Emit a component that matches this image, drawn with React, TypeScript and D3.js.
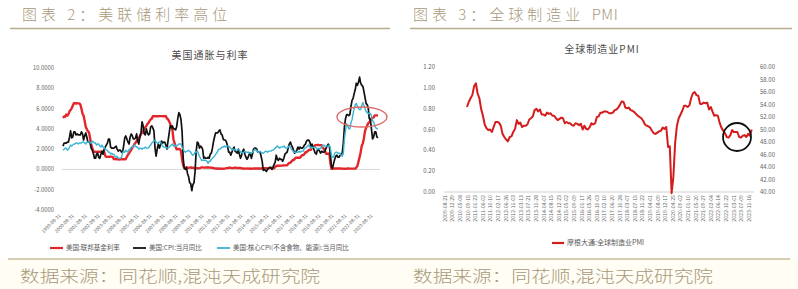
import React from 'react';
import * as d3 from 'd3';

const W = 798;
const H = 289;
const FONT = '"Noto Sans CJK SC", "Noto Sans", sans-serif';
const TAN = '#a8997a';

// ---------- Left chart: 美国通胀与利率 (monthly, 1999-08 .. 2023-11) ----------
const usStart = new Date(1999, 7, 1);
const usEnd = new Date(2023, 10, 1);
const fedFunds = [
  5.07, 5.22, 5.2, 5.42, 5.3,
  5.45, 5.73, 5.85, 6.02, 6.27, 6.53, 6.54, 6.5, 6.52, 6.51, 6.51, 6.4,
  5.98, 5.49, 5.31, 4.8, 4.21, 3.97, 3.77, 3.65, 3.07, 2.49, 2.09, 1.82,
  1.73, 1.74, 1.73, 1.75, 1.75, 1.75, 1.73, 1.74, 1.75, 1.75, 1.34, 1.24,
  1.24, 1.26, 1.25, 1.26, 1.26, 1.22, 1.01, 1.03, 1.01, 1.01, 1.0, 0.98,
  1.0, 1.01, 1.0, 1.0, 1.0, 1.03, 1.26, 1.43, 1.61, 1.76, 1.93, 2.16,
  2.28, 2.5, 2.63, 2.79, 3.0, 3.04, 3.26, 3.5, 3.62, 3.78, 4.0, 4.16,
  4.29, 4.49, 4.59, 4.79, 4.94, 4.99, 5.24, 5.25, 5.25, 5.25, 5.25, 5.24,
  5.25, 5.26, 5.26, 5.25, 5.25, 5.25, 5.26, 5.02, 4.94, 4.76, 4.49, 4.24,
  3.94, 2.98, 2.61, 2.28, 1.98, 2.0, 2.01, 2.0, 1.81, 0.97, 0.39, 0.16,
  0.15, 0.22, 0.18, 0.15, 0.18, 0.21, 0.16, 0.16, 0.15, 0.12, 0.12, 0.12,
  0.11, 0.13, 0.16, 0.2, 0.2, 0.18, 0.18, 0.19, 0.19, 0.19, 0.19, 0.18,
  0.17, 0.16, 0.14, 0.1, 0.09, 0.09, 0.07, 0.1, 0.08, 0.07, 0.08, 0.07,
  0.08, 0.1, 0.13, 0.14, 0.16, 0.16, 0.16, 0.13, 0.14, 0.16, 0.16, 0.16,
  0.14, 0.15, 0.14, 0.15, 0.11, 0.09, 0.09, 0.08, 0.08, 0.09, 0.08, 0.09,
  0.07, 0.07, 0.08, 0.09, 0.09, 0.1, 0.09, 0.09, 0.09, 0.09, 0.09, 0.12,
  0.11, 0.11, 0.11, 0.12, 0.12, 0.13, 0.13, 0.14, 0.14, 0.12, 0.12, 0.24,
  0.34, 0.38, 0.36, 0.37, 0.37, 0.38, 0.39, 0.4, 0.4, 0.4, 0.41, 0.54,
  0.65, 0.66, 0.79, 0.9, 0.91, 1.04, 1.15, 1.16, 1.15, 1.15, 1.16, 1.3,
  1.41, 1.42, 1.51, 1.69, 1.7, 1.82, 1.91, 1.91, 1.95, 2.19, 2.2, 2.27,
  2.4, 2.4, 2.41, 2.42, 2.39, 2.38, 2.4, 2.13, 2.04, 1.83, 1.55, 1.55,
  1.55, 1.58, 0.65, 0.05, 0.05, 0.08, 0.09, 0.1, 0.09, 0.09, 0.09, 0.09,
  0.09, 0.08, 0.07, 0.07, 0.06, 0.08, 0.1, 0.09, 0.08, 0.08, 0.08, 0.08,
  0.08, 0.08, 0.2, 0.33, 0.77, 1.21, 1.68, 2.33, 2.56, 3.08, 3.78, 4.1,
  4.33, 4.57, 4.65, 4.83, 5.06, 5.08, 5.12, 5.33, 5.33, 5.33, 5.33,
];
const cpiYoY = [
  2.3, 2.6, 2.6, 2.6, 2.7,
  2.7, 3.2, 3.8, 3.1, 3.2, 3.7, 3.7, 3.4, 3.5, 3.4, 3.4, 3.4,
  3.7, 3.5, 2.9, 3.3, 3.6, 3.2, 2.7, 2.7, 2.6, 2.1, 1.9, 1.6,
  1.1, 1.1, 1.5, 1.6, 1.2, 1.1, 1.5, 1.8, 1.5, 2.0, 2.2, 2.4,
  2.6, 3.0, 3.0, 2.2, 2.1, 2.1, 2.1, 2.2, 2.3, 2.0, 1.8, 1.9,
  1.9, 1.7, 1.7, 2.3, 3.1, 3.3, 3.0, 2.7, 2.5, 3.2, 3.5, 3.3,
  3.0, 3.0, 3.1, 3.5, 2.8, 2.5, 3.2, 3.6, 4.7, 4.3, 3.5, 3.4,
  4.0, 3.6, 3.4, 3.5, 4.2, 4.3, 4.1, 3.8, 2.1, 1.3, 2.0, 2.5,
  2.1, 2.4, 2.8, 2.6, 2.7, 2.7, 2.4, 2.0, 2.8, 3.5, 4.3, 4.1,
  4.3, 4.0, 4.0, 3.9, 4.2, 5.0, 5.6, 5.4, 4.9, 3.7, 1.1, 0.1,
  0.0, 0.2, -0.4, -0.7, -1.3, -1.4, -2.1, -1.5, -1.3, -0.2, 1.8, 2.7,
  2.6, 2.1, 2.3, 2.2, 2.0, 1.1, 1.2, 1.1, 1.1, 1.2, 1.1, 1.5,
  1.6, 2.1, 2.7, 3.2, 3.6, 3.6, 3.6, 3.8, 3.9, 3.5, 3.4, 3.0,
  2.9, 2.9, 2.7, 2.3, 1.7, 1.7, 1.4, 1.7, 2.0, 2.2, 1.8, 1.7,
  1.6, 2.0, 1.5, 1.1, 1.4, 1.8, 2.0, 1.5, 1.2, 1.0, 1.2, 1.5,
  1.6, 1.1, 1.5, 2.0, 2.1, 2.1, 2.0, 1.7, 1.7, 1.7, 1.3, 0.8,
  -0.1, 0.0, -0.1, -0.2, 0.0, 0.1, 0.2, 0.2, 0.0, 0.2, 0.5, 0.7,
  1.4, 1.0, 0.9, 1.1, 1.0, 1.0, 0.8, 1.1, 1.5, 1.6, 1.7, 2.1,
  2.5, 2.7, 2.4, 2.2, 1.9, 1.6, 1.7, 1.9, 2.2, 2.0, 2.2, 2.1,
  2.1, 2.2, 2.4, 2.5, 2.8, 2.9, 2.9, 2.7, 2.3, 2.5, 2.2, 1.9,
  1.6, 1.5, 1.9, 2.0, 1.8, 1.6, 1.8, 1.7, 1.7, 1.8, 2.1, 2.3,
  2.5, 2.3, 1.5, 0.3, 0.1, 0.6, 1.0, 1.3, 1.4, 1.2, 1.2, 1.4,
  1.4, 1.7, 2.6, 4.2, 5.0, 5.4, 5.4, 5.3, 5.4, 6.2, 6.8, 7.0,
  7.5, 7.9, 8.5, 8.3, 8.6, 9.1, 8.5, 8.3, 8.2, 7.7, 7.1, 6.5,
  6.4, 6.0, 5.0, 4.9, 4.0, 3.0, 3.2, 3.7, 3.7, 3.2, 3.1,
];
const coreCpiYoY = [
  1.9, 2.0, 2.1, 2.1, 1.9,
  2.0, 2.2, 2.4, 2.3, 2.4, 2.5, 2.5, 2.6, 2.6, 2.5, 2.6, 2.6,
  2.6, 2.7, 2.7, 2.6, 2.5, 2.7, 2.7, 2.7, 2.6, 2.6, 2.8, 2.7,
  2.6, 2.6, 2.4, 2.5, 2.5, 2.3, 2.2, 2.4, 2.2, 2.2, 2.0, 1.9,
  1.9, 1.7, 1.7, 1.5, 1.6, 1.5, 1.5, 1.3, 1.2, 1.3, 1.1, 1.1,
  1.1, 1.2, 1.6, 1.8, 1.7, 1.9, 1.8, 1.7, 2.0, 2.0, 2.2, 2.2,
  2.3, 2.4, 2.3, 2.2, 2.2, 2.0, 2.1, 2.1, 2.0, 2.1, 2.1, 2.2,
  2.1, 2.1, 2.1, 2.3, 2.4, 2.6, 2.7, 2.8, 2.9, 2.7, 2.6, 2.6,
  2.7, 2.7, 2.5, 2.3, 2.2, 2.2, 2.2, 2.1, 2.1, 2.2, 2.3, 2.4,
  2.5, 2.3, 2.4, 2.3, 2.3, 2.4, 2.5, 2.5, 2.5, 2.2, 2.0, 1.8,
  1.7, 1.8, 1.8, 1.9, 1.8, 1.7, 1.5, 1.4, 1.5, 1.7, 1.7, 1.8,
  1.6, 1.3, 1.1, 0.9, 0.9, 0.9, 0.9, 0.9, 0.8, 0.6, 0.8, 0.8,
  1.0, 1.1, 1.2, 1.3, 1.5, 1.6, 1.8, 2.0, 2.0, 2.1, 2.2, 2.2,
  2.3, 2.2, 2.3, 2.3, 2.3, 2.2, 2.1, 1.9, 2.0, 2.0, 1.9, 1.9,
  1.9, 2.0, 1.9, 1.7, 1.7, 1.6, 1.7, 1.8, 1.7, 1.7, 1.7, 1.7,
  1.6, 1.6, 1.7, 1.8, 2.0, 1.9, 1.9, 1.7, 1.7, 1.8, 1.7, 1.6,
  1.6, 1.7, 1.8, 1.8, 1.7, 1.8, 1.8, 1.8, 1.9, 1.9, 2.0, 2.1,
  2.2, 2.3, 2.2, 2.1, 2.2, 2.2, 2.2, 2.3, 2.2, 2.1, 2.1, 2.2,
  2.3, 2.2, 2.0, 1.9, 1.7, 1.7, 1.7, 1.7, 1.7, 1.8, 1.7, 1.8,
  1.8, 1.8, 2.1, 2.1, 2.2, 2.3, 2.4, 2.2, 2.2, 2.1, 2.2, 2.2,
  2.2, 2.1, 2.0, 2.1, 2.0, 2.1, 2.2, 2.4, 2.4, 2.3, 2.3, 2.3,
  2.3, 2.4, 2.1, 1.4, 1.2, 1.2, 1.6, 1.7, 1.7, 1.6, 1.6, 1.6,
  1.4, 1.3, 1.6, 3.0, 3.8, 4.5, 4.3, 4.0, 4.0, 4.6, 4.9, 5.5,
  6.0, 6.4, 6.5, 6.2, 6.0, 5.9, 5.9, 6.3, 6.6, 6.3, 6.0, 5.7,
  5.6, 5.5, 5.6, 5.5, 5.3, 4.8, 4.7, 4.3, 4.1, 4.0, 4.0,
];
const usYTicks = [-4, -2, 0, 2, 4, 6, 8, 10];
const usXLabels = [
  '1999-08-31', '2000-08-31', '2001-08-31', '2002-08-31', '2003-08-31',
  '2004-08-31', '2005-08-31', '2006-08-31', '2007-08-31', '2008-08-31',
  '2009-08-31', '2010-08-31', '2011-08-31', '2012-08-31', '2013-08-31',
  '2014-08-31', '2015-08-31', '2016-08-31', '2017-08-31', '2018-08-31',
  '2019-08-31', '2020-08-31', '2021-08-31', '2022-08-31', '2023-08-31',
];
const usSeriesNames = ['美国:联邦基金利率', '美国:CPI:当月同比', '美国:核心CPI(不含食物、能源):当月同比'];

// ---------- Right chart: 全球制造业PMI (monthly, 2010-09 .. 2024-01) ----------
const pmiStart = new Date(2010, 8, 1);
const pmi = [
  53.6, 54.4, 55.0, 55.5,
  56.9, 57.4, 55.8, 55.0, 53.3, 52.2, 50.8, 50.2, 49.9, 50.0, 49.6, 50.4,
  51.2, 51.2, 51.1, 50.6, 49.3, 48.8, 48.4, 48.1, 48.8, 48.9, 49.6, 50.1,
  51.5, 50.9, 51.1, 50.4, 50.6, 50.6, 50.8, 51.6, 51.8, 52.1, 53.1, 53.3,
  52.9, 53.2, 52.4, 52.4, 52.2, 52.7, 52.5, 52.6, 52.2, 52.2, 51.8, 51.5,
  51.7, 51.9, 51.8, 51.0, 51.2, 51.0, 51.0, 50.7, 50.6, 51.0, 50.9, 50.7,
  50.9, 50.0, 50.6, 50.1, 50.0, 50.4, 51.0, 50.8, 51.0, 52.0, 52.1, 52.7,
  52.7, 52.9, 52.9, 52.8, 52.6, 52.6, 52.7, 53.1, 53.2, 53.5, 54.0, 54.5,
  54.4, 53.5, 53.4, 53.5, 53.1, 53.0, 52.8, 52.5, 52.2, 52.0, 51.8, 51.4,
  50.8, 50.6, 50.5, 50.3, 49.8, 49.4, 49.3, 49.5, 49.7, 49.8, 50.3, 50.1,
  50.4, 47.2, 47.3, 39.8, 42.4, 47.9, 50.6, 51.8, 52.4, 53.0, 53.8, 53.8,
  53.6, 53.9, 55.0, 55.8, 56.0, 55.5, 55.4, 54.1, 54.1, 54.3, 54.2, 54.3,
  53.2, 53.6, 52.9, 52.2, 52.3, 52.2, 51.1, 50.3, 49.8, 49.4, 48.8, 48.7,
  49.1, 49.9, 49.6, 49.6, 49.6, 48.8, 48.7, 49.0, 49.1, 48.8, 49.3, 49.0,
  50.0,
];
const pmiLeftTicks = [0, 0.2, 0.4, 0.6, 0.8, 1.0, 1.2];
const pmiRightTicks = [40, 42, 44, 46, 48, 50, 52, 54, 56, 58, 60];
const pmiXLabels = [
  '2009-08-21', '2009-12-29', '2010-05-08', '2010-09-15', '2011-01-23', '2011-06-02',
  '2011-10-10', '2012-02-17', '2012-06-26', '2012-11-03', '2013-03-13', '2013-07-21',
  '2013-11-28', '2014-04-07', '2014-08-15', '2014-12-23', '2015-05-02', '2015-09-09',
  '2016-01-17', '2016-05-26', '2016-10-03', '2017-02-10', '2017-06-20', '2017-10-28',
  '2018-03-07', '2018-07-15', '2018-11-22', '2019-04-01', '2019-08-09', '2019-12-17',
  '2020-04-25', '2020-09-02', '2021-01-10', '2021-05-20', '2021-09-27', '2022-02-04',
  '2022-06-14', '2022-10-22', '2023-03-01', '2023-07-09', '2023-11-16',
];
const pmiSeriesName = '摩根大通:全球制造业PMI';

const parse = d3.timeParse('%Y-%m-%d');

export default function App() {
  // left chart scales
  const usX = d3.scaleTime().domain([usStart, usEnd]).range([63, 378]);
  const usY = d3.scaleLinear().domain([-4, 10]).range([210, 68]);
  const usMonths = d3.timeMonth.range(usStart, d3.timeMonth.offset(usEnd, 1));
  const usLine = d3
    .line<number>()
    .x((_, i) => usX(usMonths[i]))
    .y((v) => usY(v));

  // right chart scales
  const pmiX = d3
    .scaleTime()
    .domain([parse(pmiXLabels[0])!, parse(pmiXLabels[pmiXLabels.length - 1])!])
    .range([445, 749]);
  const pmiYR = d3.scaleLinear().domain([40, 60]).range([192, 67]);
  const pmiYL = d3.scaleLinear().domain([0, 1.2]).range([192, 67]);
  const pmiMonths = d3.timeMonth.range(pmiStart, d3.timeMonth.offset(pmiStart, pmi.length));
  const pmiLine = d3
    .line<number>()
    .x((_, i) => pmiX(pmiMonths[i]))
    .y((v) => pmiYR(v));

  const tickColor = '#5f5f5f';

  return (
    <svg
      width={W}
      height={H}
      viewBox={`0 0 ${W} ${H}`}
      style={{ position: 'absolute', left: 0, top: 0, background: '#fff', fontFamily: FONT }}
    >
      <rect x={0} y={0} width={W} height={H} fill="#ffffff" />
      <rect x={0} y={259} width={W} height={30} fill="#fffdf4" />

      {/* headers */}
      <text x={22} y={19.5} fontSize={15} fill={TAN} letterSpacing={4} fontWeight={300}>
        图表 2：美联储利率高位
      </text>
      <line x1={10} x2={390} y1={28.5} y2={28.5} stroke="#b9ad8e" strokeWidth={1.5} />
      <text x={413} y={19.5} fontSize={15} fill={TAN} fontWeight={300}>
        <tspan letterSpacing={4}>图表 3：全球制造业 </tspan>
        <tspan letterSpacing={0.5}>PMI</tspan>
      </text>
      <line x1={410} x2={792} y1={28.5} y2={28.5} stroke="#b9ad8e" strokeWidth={1.5} />

      {/* footers */}
      <line x1={8} x2={790} y1={259} y2={259} stroke="#c8bc9c" strokeWidth={1.5} />
      <text x={20} y={282} fontSize={16} fill={TAN} fontWeight={300} textLength={300} lengthAdjust="spacingAndGlyphs">
        数据来源：同花顺,混沌天成研究院
      </text>
      <text x={413} y={282} fontSize={16} fill={TAN} fontWeight={300} textLength={300} lengthAdjust="spacingAndGlyphs">
        数据来源：同花顺,混沌天成研究院
      </text>

      {/* ---------- left chart ---------- */}
      <text x={210} y={59} fontSize={10} fill="#4a4a4a" textAnchor="middle" letterSpacing={1}>
        美国通胀与利率
      </text>
      {usYTicks.map((t) => (
        <text key={t} x={54} y={usY(t)} dy="0.35em" fontSize={5.8} fill={tickColor} textAnchor="end">
          {t.toFixed(4)}
        </text>
      ))}
      <line x1={62} x2={380} y1={usY(0)} y2={usY(0)} stroke="#d9d9d9" strokeWidth={1} />
      {usXLabels.map((s) => {
        const x = usX(parse(s)!) - 3;
        const y = 216;
        return (
          <text
            key={s}
            x={x}
            y={y}
            fontSize={4.8}
            fill={tickColor}
            textAnchor="end"
            transform={`rotate(-45 ${x} ${y})`}
          >
            {s}
          </text>
        );
      })}
      <path d={usLine(fedFunds) || ''} fill="none" stroke="#e3262b" strokeWidth={2.4} strokeLinejoin="round" />
      <path d={usLine(cpiYoY) || ''} fill="none" stroke="#111111" strokeWidth={1.7} strokeLinejoin="round" />
      <path d={usLine(coreCpiYoY) || ''} fill="none" stroke="#3bb3d3" strokeWidth={1.4} strokeLinejoin="round" />
      <ellipse cx={362} cy={117} rx={25} ry={10} fill="none" stroke="#dd6a6a" strokeWidth={1.4} />

      {/* left legend */}
      <line x1={50} x2={63} y1={248} y2={248} stroke="#e3262b" strokeWidth={2.2} />
      <text x={66} y={248} dy="0.35em" fontSize={6.5} fill="#595959">{usSeriesNames[0]}</text>
      <line x1={133} x2={146} y1={248} y2={248} stroke="#111" strokeWidth={1.8} />
      <text x={149} y={248} dy="0.35em" fontSize={6.5} fill="#595959">{usSeriesNames[1]}</text>
      <line x1={217} x2={230} y1={248} y2={248} stroke="#3bb3d3" strokeWidth={1.8} />
      <text x={233} y={248} dy="0.35em" fontSize={6.5} fill="#595959">{usSeriesNames[2]}</text>

      {/* ---------- right chart ---------- */}
      <text x={602} y={53} fontSize={10} fill="#4a4a4a" textAnchor="middle" letterSpacing={1}>
        全球制造业PMI
      </text>
      {pmiLeftTicks.map((t) => (
        <text key={t} x={435} y={pmiYL(t)} dy="0.35em" fontSize={6} fill={tickColor} textAnchor="end">
          {t.toFixed(2)}
        </text>
      ))}
      {pmiRightTicks.map((t) => (
        <text key={t} x={760} y={pmiYR(t)} dy="0.35em" fontSize={6} fill={tickColor} textAnchor="start">
          {t.toFixed(2)}
        </text>
      ))}
      <line x1={444} x2={754} y1={192} y2={192} stroke="#d0d0d0" strokeWidth={1} />
      {pmiXLabels.map((s) => {
        const x = pmiX(parse(s)!);
        const y = 195;
        return (
          <text
            key={s}
            x={x}
            y={y}
            dy="0.35em"
            fontSize={5.2}
            fill={tickColor}
            textAnchor="end"
            transform={`rotate(-90 ${x} ${y})`}
          >
            {s}
          </text>
        );
      })}
      <path d={pmiLine(pmi) || ''} fill="none" stroke="#d41c1c" strokeWidth={2} strokeLinejoin="round" />
      <circle cx={737} cy={137} r={14} fill="none" stroke="#111" strokeWidth={1.8} />

      {/* right legend */}
      <line x1={552} x2={564} y1={243} y2={243} stroke="#d41c1c" strokeWidth={2.2} />
      <text x={567} y={243} dy="0.35em" fontSize={7} fill="#595959">{pmiSeriesName}</text>
    </svg>
  );
}
